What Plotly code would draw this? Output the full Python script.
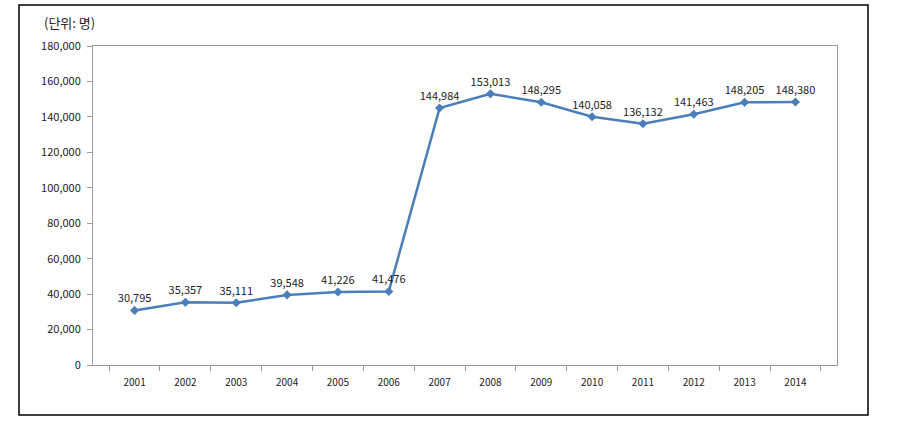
import plotly.graph_objects as go

years = ["2001", "2002", "2003", "2004", "2005", "2006", "2007",
         "2008", "2009", "2010", "2011", "2012", "2013", "2014"]
counts = [30795, 35357, 35111, 39548, 41226, 41476, 144984,
          153013, 148295, 140058, 136132, 141463, 148205, 148380]
unit_label = "(단위: 명)"

FONT = "Noto Sans CJK KR, DejaVu Sans, sans-serif"
W, H = 902, 425
L, T = 93, 46
R, B = W - 837, H - 365
pw, ph = W - L - R, H - T - B


def px(x):
    return (x - L) / pw


def py(y):
    return (H - B - y) / ph


fig = go.Figure()
fig.add_trace(go.Scatter(
    x=years, y=counts,
    mode="lines+markers+text",
    line=dict(color="#4A7EBB", width=2.5),
    marker=dict(symbol="diamond", size=7, color="#4A7EBB"),
    text=[f"{v:,}" for v in counts],
    textposition="top center",
    textfont=dict(family=FONT, size=11, color="#222222"),
    cliponaxis=False,
    showlegend=False,
))

fig.update_xaxes(
    type="category",
    showline=True, linecolor="#9a9a9a", linewidth=1, mirror=True,
    ticks="outside", tickson="boundaries", ticklen=5, tickcolor="#9a9a9a",
    tickfont=dict(family=FONT, size=10, color="#222222"),
    ticklabelstandoff=8,
    showgrid=False,
)
fig.update_yaxes(
    range=[0, 180000], dtick=20000, tickformat=",",
    showline=True, linecolor="#9a9a9a", linewidth=1, mirror=True,
    ticks="outside", ticklen=5, tickcolor="#9a9a9a",
    tickfont=dict(family=FONT, size=11, color="#222222"),
    ticklabelstandoff=4,
    showgrid=False, zeroline=False,
)

fig.add_shape(type="rect", xref="paper", yref="paper",
              x0=px(19), x1=px(868), y0=py(415), y1=py(5),
              line=dict(color="black", width=1.5))
fig.add_annotation(text=unit_label, xref="paper", yref="paper",
                   x=px(42), y=py(22), xanchor="left", yanchor="middle",
                   showarrow=False,
                   font=dict(family=FONT, size=13, color="#222222"))

fig.update_layout(
    width=W, height=H,
    margin=dict(l=L, r=R, t=T, b=B),
    plot_bgcolor="white", paper_bgcolor="white",
)

# drop the default 8px page margin so the figure sits at the window corner
fig.write_html("out.html", config={"displayModeBar": False},
               post_script="document.body.style.margin='0';"
                           "document.body.style.overflow='hidden';")
